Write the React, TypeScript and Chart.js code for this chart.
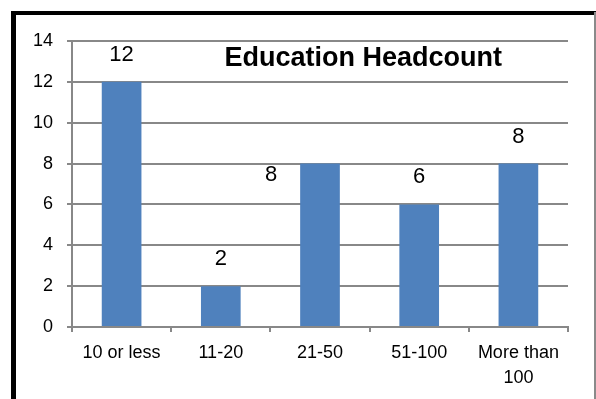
import React, { useEffect, useRef } from "react";
import { Chart, registerables } from "chart.js";

Chart.register(...registerables);

const categories: (string | string[])[] = ["10 or less", "11-20", "21-50", "51-100", ["More than", "100"]];
const headcount: number[] = [12, 2, 8, 6, 8];
const yTicks = { min: 0, max: 14, step: 2 };
const chartTitle = "Education Headcount";

const FONT = "'Liberation Sans', Arial, sans-serif";
const GRID = "#888888";
const BAR = "#4F81BD";

const labelPlugin = {
  id: "barLabels",
  afterDatasetsDraw(chart: any, _args: any, opts: any) {
    const ctx = chart.ctx;
    const meta = chart.getDatasetMeta(0);
    const nudges: { dx: number; dy: number }[] = opts.nudges || [];
    ctx.save();
    ctx.font = `22px ${FONT}`;
    ctx.fillStyle = "#000";
    ctx.textAlign = "center";
    ctx.textBaseline = "middle";
    meta.data.forEach((bar: any, i: number) => {
      const v = chart.data.datasets[0].data[i];
      const n = nudges[i] || { dx: 0, dy: 0 };
      ctx.fillText(String(v), bar.x + n.dx, bar.y - 27 + n.dy);
    });
    ctx.restore();
  },
};

const titlePlugin = {
  id: "innerTitle",
  afterDraw(chart: any, _args: any, opts: any) {
    const { ctx, chartArea } = chart;
    ctx.save();
    ctx.font = `bold 27px ${FONT}`;
    ctx.fillStyle = "#000";
    ctx.textAlign = "center";
    ctx.textBaseline = "alphabetic";
    const x = chartArea.left + (chartArea.right - chartArea.left) * 0.587;
    ctx.fillText(opts.text, x, chartArea.top + 25);
    ctx.restore();
  },
};

export default function App() {
  const ref = useRef<HTMLCanvasElement | null>(null);

  useEffect(() => {
    if (!ref.current) return;
    const chart = new Chart(ref.current, {
      type: "bar",
      data: {
        labels: categories as any,
        datasets: [
          {
            data: headcount,
            backgroundColor: BAR,
            borderWidth: 0,
            barPercentage: 0.4,
            categoryPercentage: 1,
          },
        ],
      },
      plugins: [labelPlugin, titlePlugin],
      options: {
        responsive: false,
        animation: false,
        layout: { padding: { left: 16, top: 41, right: 28, bottom: 0 } },
        plugins: {
          legend: { display: false },
          title: { display: false },
          tooltip: { enabled: false },
          barLabels: {
            nudges: [
              { dx: 0, dy: 0 },
              { dx: 0, dy: 0 },
              { dx: -49, dy: 38 },
              { dx: 0, dy: 0 },
              { dx: 0, dy: 0 },
            ],
          },
          innerTitle: { text: chartTitle },
        } as any,
        scales: {
          x: {
            grid: {
              offset: true,
              drawOnChartArea: false,
              drawTicks: true,
              tickLength: 5,
              color: GRID,
              lineWidth: 2,
            },
            border: { color: GRID, width: 2 },
            ticks: {
              color: "#000",
              font: { family: FONT, size: 18, lineHeight: 1.4 },
              padding: 8,
              maxRotation: 0,
              autoSkip: false,
            },
            afterFit: (s: any) => {
              s.height = 72;
            },
          },
          y: {
            min: yTicks.min,
            max: yTicks.max,
            grid: { color: GRID, tickLength: 5, lineWidth: 2 },
            border: { color: GRID, width: 2 },
            ticks: {
              stepSize: yTicks.step,
              color: "#000",
              font: { family: FONT, size: 18 },
              padding: 14,
            },
            afterFit: (s: any) => {
              s.width = 56;
            },
          },
        },
      },
    });
    return () => chart.destroy();
  }, []);

  return (
    <div style={{ position: "fixed", left: 0, top: 0, width: 596, height: 399, background: "#fff" }}>
      <canvas ref={ref} width={596} height={399} style={{ position: "absolute", left: 0, top: 0 }} />
      <div style={{ position: "absolute", left: 11, top: 12, width: 5, height: 387, background: "#000" }} />
      <div style={{ position: "absolute", left: 11, top: 11, width: 585, height: 4, background: "#000" }} />
      <div style={{ position: "absolute", left: 594, top: 12, width: 2, height: 387, background: "#8a8a8a" }} />
    </div>
  );
}
